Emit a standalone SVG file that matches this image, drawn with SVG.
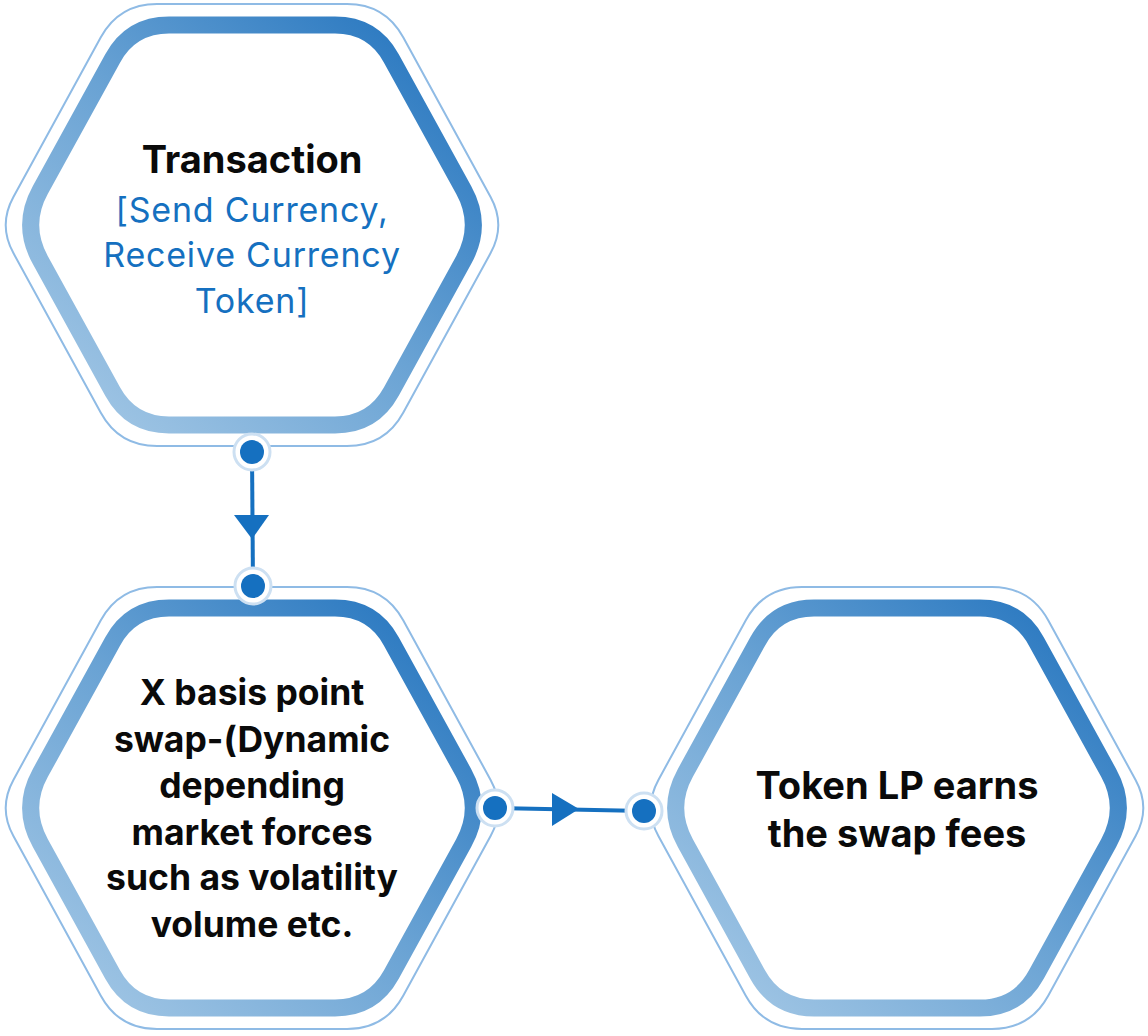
<svg xmlns="http://www.w3.org/2000/svg" width="1148" height="1036" viewBox="0 0 1148 1036">
<style>
.hexthick{fill:#fff;stroke:url(#g);stroke-width:17;stroke-linejoin:round}
.hexthin{fill:none;stroke:#8fbbe5;stroke-width:2}
.title{font-family:Inter,"Liberation Sans",sans-serif;font-weight:700;font-size:38px;fill:#0a0a0a;text-anchor:middle}
.body{font-family:Inter,"Liberation Sans",sans-serif;font-weight:700;font-size:35.5px;fill:#0a0a0a;text-anchor:middle}
.sub{font-family:Inter,"Liberation Sans",sans-serif;font-weight:400;font-size:34px;letter-spacing:0.8px;fill:#1570c0;text-anchor:middle}
.line{stroke:#1570c0;stroke-width:4;fill:none}
.halo{fill:#fff;stroke:#cde0f2;stroke-width:3}
.dot{fill:#1570c0}
.arrow{fill:#1570c0}
</style>
<defs>
<linearGradient id="g" x1="0" y1="1" x2="1" y2="0">
<stop offset="0" stop-color="#a9cbe7"/>
<stop offset="0.5" stop-color="#6aa3d4"/>
<stop offset="1" stop-color="#1f71bd"/>
</linearGradient>
<path id="hexThin" d="M-95,-221 L95,-221 Q133,-221 151.2,-187.7 L238.6,-28.1 Q254,0 238.6,28.1 L151.2,187.7 Q133,221 95,221 L-95,221 Q-133,221 -151.2,187.7 L-238.6,28.1 Q-254,0 -238.6,-28.1 L-151.2,-187.7 Q-133,-221 -95,-221 Z"/>
<path id="hexThick" d="M-83,-200 L83,-200 Q121,-200 139.3,-166.7 L211.7,-35 Q231,0 211.7,35 L139.3,166.7 Q121,200 83,200 L-83,200 Q-121,200 -139.3,166.7 L-211.7,35 Q-231,0 -211.7,-35 L-139.3,-166.7 Q-121,-200 -83,-200 Z"/>
</defs>
<rect width="1148" height="1036" fill="#fff"/>
<g id="node-transaction" transform="translate(252,225)">
<use href="#hexThin" class="hexthin"/>
<use href="#hexThick" class="hexthick"/>
<text class="title" x="0" y="-52">Transaction</text>
<text class="sub" x="0" y="-3">[Send Currency,</text>
<text class="sub" x="0" y="42">Receive Currency</text>
<text class="sub" x="0" y="88">Token]</text>
</g>
<g id="node-swap" transform="translate(252,808)">
<use href="#hexThin" class="hexthin"/>
<use href="#hexThick" class="hexthick"/>
<text class="body" x="0" y="-103">X basis point</text>
<text class="body" x="0" y="-56">swap-(Dynamic</text>
<text class="body" x="0" y="-10">depending</text>
<text class="body" x="0" y="37">market forces</text>
<text class="body" x="0" y="82">such as volatility</text>
<text class="body" x="0" y="129">volume etc.</text>
</g>
<g id="node-lp" transform="translate(897,808)">
<use href="#hexThin" class="hexthin"/>
<use href="#hexThick" class="hexthick"/>
<text class="title" x="0" y="-9">Token LP earns</text>
<text class="title" x="0" y="39">the swap fees</text>
</g>
<g id="connectors">
<path class="line" d="M252,452 L253,586"/>
<polygon class="arrow" points="234,515 269,515 252,539"/>
<circle class="halo" cx="252" cy="452" r="18"/>
<circle class="dot" cx="252" cy="452" r="12"/>
<circle class="halo" cx="253" cy="586" r="18"/>
<circle class="dot" cx="253" cy="586" r="12"/>
<path class="line" d="M495,808 L644,811"/>
<polygon class="arrow" points="552,793 552,826 579,809"/>
<circle class="halo" cx="495" cy="808" r="18"/>
<circle class="dot" cx="495" cy="808" r="12"/>
<circle class="halo" cx="644" cy="811" r="18"/>
<circle class="dot" cx="644" cy="811" r="12"/>
</g>
</svg>
